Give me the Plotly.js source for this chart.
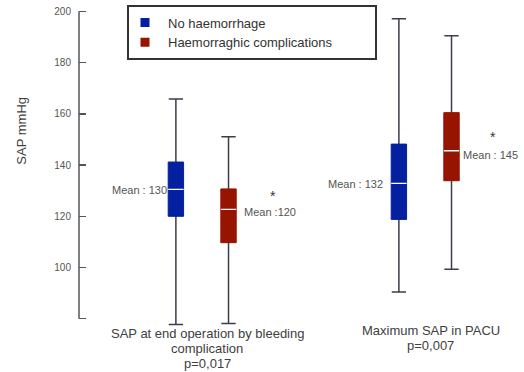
<!DOCTYPE html>
<html><head><meta charset="utf-8">
<script src="https://cdn.plot.ly/plotly-3.0.1.min.js"></script>
<style>html,body{margin:0;padding:0;background:#fff}</style>
</head><body><div id="chart" style="width:524px;height:372px"></div>
<script>
// ---- data ----
const groupLabelLines = [
  ["SAP at end operation by bleeding", "complication", "p=0,017"],
  ["Maximum SAP in PACU", "p=0,007"]
];
const seriesNames = ["No haemorrhage", "Haemorraghic complications"];
const noHaemLow    = [77.7, 90.4];
const noHaemQ1     = [120.0, 118.8];
const noHaemMedian = [130.5, 132.9];
const noHaemQ3     = [141.2, 148.2];
const noHaemHigh   = [165.8, 197.2];
const haemLow      = [78.1, 99.3];
const haemQ1       = [109.7, 133.9];
const haemMedian   = [122.7, 145.6];
const haemQ3       = [130.7, 160.5];
const haemHigh     = [151.1, 190.5];
const noHaemMean     = [130, 132];
const haemMean       = [120, 145];
const noHaemMeanText = ["Mean : 130", "Mean : 132"];
const haemMeanText   = ["Mean :120", "Mean : 145"];
const yTickVals = [80, 100, 120, 140, 160, 180, 200];
const yTickText = ["", "100", "120", "140", "160", "180", "200"];

// ---- styling / layout ----
const FONT = "Liberation Sans, Arial, Helvetica, sans-serif";
const BLUE = "#0420A0", RED = "#961400", WHISK = "#3c3c4a";
const groupPos = [1, 2];
const OFF = 0.118, BW = 0.069;
const xBlue = groupPos.map(g => g - OFF);
const xRed = groupPos.map(g => g + OFF);

function layers(x, low, q1, med, q3, high, color) {
  const common = {type: 'box', x: x, width: BW, hoverinfo: 'skip', showlegend: false, boxpoints: false};
  return [
    Object.assign({}, common, {q1: med, median: med, q3: med, lowerfence: low, upperfence: high,
      whiskerwidth: 0.93, fillcolor: 'rgba(0,0,0,0)', line: {color: WHISK, width: 1.5}}),
    Object.assign({}, common, {q1: q1, median: q1, q3: q3, lowerfence: q1, upperfence: q3,
      whiskerwidth: 0, fillcolor: color, line: {color: color, width: 1}}),
    Object.assign({}, common, {q1: med, median: med, q3: med, lowerfence: med, upperfence: med,
      whiskerwidth: 0, fillcolor: 'rgba(0,0,0,0)', line: {color: '#ffffff', width: 1.3}})
  ];
}

const data = [].concat(
  layers(xBlue, noHaemLow, noHaemQ1, noHaemMedian, noHaemQ3, noHaemHigh, BLUE),
  layers(xRed, haemLow, haemQ1, haemMedian, haemQ3, haemHigh, RED),
  [
    {type: 'scatter', mode: 'markers', x: [null], y: [null], name: seriesNames[0],
     marker: {symbol: 'square', size: 9, color: BLUE}, hoverinfo: 'skip'},
    {type: 'scatter', mode: 'markers', x: [null], y: [null], name: seriesNames[1],
     marker: {symbol: 'square', size: 9, color: RED}, hoverinfo: 'skip'}
  ]
);

const annotations = [];
// mean labels
const blueShift = [{xs: -6.7, ys: 0.7}, {xs: -13.7, ys: 1.6}];
const redShift = [{xs: 13.7, ys: 4.6}, {xs: 9.3, ys: -2.7}];
for (let i = 0; i < 2; i++) {
  annotations.push({x: xBlue[i], y: noHaemMean[i], xref: 'x', yref: 'y', text: noHaemMeanText[i],
    showarrow: false, xanchor: 'right', yanchor: 'middle', xshift: blueShift[i].xs, yshift: blueShift[i].ys,
    font: {family: FONT, size: 11, color: '#555'}});
  annotations.push({x: xRed[i], y: haemMean[i], xref: 'x', yref: 'y', text: haemMeanText[i],
    showarrow: false, xanchor: 'left', yanchor: 'middle', xshift: redShift[i].xs, yshift: redShift[i].ys,
    font: {family: FONT, size: 11, color: '#555'}});
}
// significance asterisks
annotations.push({x: 1.3175, y: 128, xref: 'x', yref: 'y', text: '*', showarrow: false,
  font: {family: FONT, size: 14, color: '#333'}});
annotations.push({x: 2.304, y: 151, xref: 'x', yref: 'y', text: '*', showarrow: false,
  font: {family: FONT, size: 14, color: '#333'}});
// group (category) labels, one line each
const labelX = [1.0215, 2.024];
const labelLineY = [[-0.0199, -0.0678, -0.1151], [-0.0126, -0.0584]];
groupLabelLines.forEach((lines, g) => {
  lines.forEach((t, k) => {
    annotations.push({x: labelX[g], y: labelLineY[g][k], xref: 'x', yref: 'paper', text: t, showarrow: false,
      xanchor: 'center', yanchor: 'middle', borderpad: 0, borderwidth: 0,
      font: {family: FONT, size: 13, color: '#404040'}});
  });
});
// y-axis title
annotations.push({x: -0.1304, y: 0.621, xref: 'paper', yref: 'paper', text: 'SAP mmHg', textangle: -90,
  showarrow: false, xanchor: 'center', yanchor: 'middle', font: {family: FONT, size: 13, color: '#404040'}});

const layout = {
  width: 524, height: 372,
  margin: {l: 79, r: 4, t: 10, b: 45},
  paper_bgcolor: '#fff', plot_bgcolor: '#fff',
  font: {family: FONT, color: '#444'},
  boxmode: 'overlay',
  showlegend: true,
  legend: {x: 0.0975, y: 1.0079, xanchor: 'left', yanchor: 'top', bgcolor: 'rgba(0,0,0,0)',
    borderwidth: 0, font: {family: FONT, size: 13, color: '#333'}, itemwidth: 36, tracegroupgap: 0},
  xaxis: {range: [0.4475, 2.4251], visible: false, fixedrange: true},
  yaxis: {range: [76.76, 200.59], tickvals: yTickVals, ticktext: yTickText, ticks: 'inside', ticklen: 7,
    tickwidth: 1.5, tickcolor: '#555', showgrid: false, zeroline: false, showline: false,
    ticklabelstandoff: 7,
    tickfont: {family: FONT, size: 10, color: '#555'}, fixedrange: true},
  shapes: [
    {type: 'line', xref: 'paper', yref: 'y', x0: 0, x1: 0, y0: 80, y1: 200, line: {color: '#555', width: 1.5}},
    {type: 'rect', xref: 'paper', yref: 'paper', x0: 0.1111, x1: 0.6735, y0: 0.8454, y1: 1.0126,
     line: {color: '#333', width: 2}, fillcolor: 'rgba(0,0,0,0)'}
  ],
  annotations: annotations
};

Plotly.newPlot('chart', data, layout, {staticPlot: true, displayModeBar: false});
</script></body></html>
